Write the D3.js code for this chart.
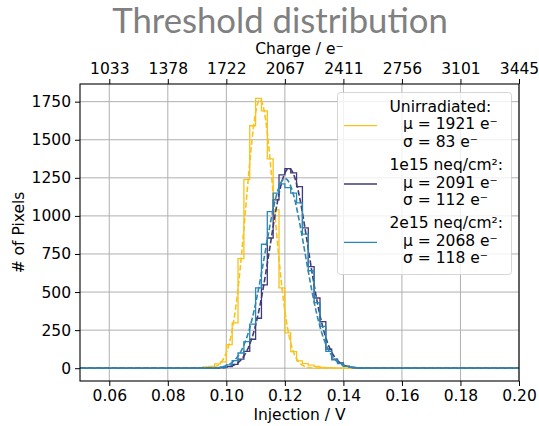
<!DOCTYPE html>
<html>
<head>
<meta charset="utf-8">
<script src="https://cdn.jsdelivr.net/npm/d3@7"></script>
<style>
  body { margin: 0; background: #fff; }
  svg text { font-family: "DejaVu Sans", sans-serif; }
</style>
</head>
<body>
<svg id="chart" width="539" height="426"></svg>
<script>
// injection axis ticks (V) and the matching charge labels on the top axis
const injTicks = [0.06, 0.08, 0.10, 0.12, 0.14, 0.16, 0.18, 0.20];
const chargeLabels = ["1033", "1378", "1722", "2067", "2411", "2756", "3101", "3445"];
const countTicks = [0, 250, 500, 750, 1000, 1250, 1500, 1750];

// histogram bins: first left edge and width (V)
const binStart = 0.088;
const binWidth = 0.002;

// counts per bin
const unirrCounts = [2, 4, 8, 12, 28, 42, 155, 297, 719, 1240, 1592, 1772, 1690, 1375, 1040, 527, 232, 109, 48, 30, 20, 12, 6, 4, 2, 1, 1];
const neq1Counts  = [0, 0, 0, 1, 2, 4, 10, 25, 60, 110, 190, 328, 547, 855, 1105, 1269, 1310, 1282, 1192, 921, 667, 461, 306, 125, 60, 35, 14, 6, 3, 1];
const neq2Counts  = [0, 0, 1, 2, 3, 8, 22, 50, 100, 175, 290, 527, 814, 1028, 1150, 1210, 1185, 1150, 1085, 880, 640, 430, 275, 110, 55, 30, 12, 5, 2];

// gaussian fit results (electrons) and fitted peak heights
const seriesNames = ["Unirradiated:", "1e15 neq/cm²:", "2e15 neq/cm²:"];
const fitMu = [1921, 2091, 2068];
const fitSigma = [83, 112, 118];
const fitAmp = [1765, 1312, 1245];
const ePerVolt = 17225;

const colors = ["#f7c31c", "#3f3b78", "#2b87b4"];
const allCounts = [unirrCounts, neq1Counts, neq2Counts];
const fontSize = "15.5px";

const svg = d3.select("#chart");
const margin = { top: 84, right: 20, bottom: 45, left: 80 };
const width = 519 - margin.left;
const height = 381 - margin.top;

svg.append("text")
    .attr("x", 280)
    .attr("y", 33)
    .attr("text-anchor", "middle")
    .style("font-family", "Lato, sans-serif")
    .style("font-size", "34.7px")
    .attr("fill", "#808080")
    .text("Threshold distribution");

const chart = svg.append("g")
    .attr("transform", `translate(${margin.left},${margin.top})`);

const x = d3.scaleLinear().domain([0.05, 0.2]).range([0, width]);
const y = d3.scaleLinear().domain([-84, 1866]).range([height, 0]);

// grid
chart.append("g")
    .selectAll("line")
    .data(injTicks)
    .enter()
    .append("line")
    .attr("x1", d => x(d)).attr("x2", d => x(d))
    .attr("y1", 0).attr("y2", height)
    .attr("stroke", "#b0b0b0").attr("stroke-width", 1);

chart.append("g")
    .selectAll("line")
    .data(countTicks)
    .enter()
    .append("line")
    .attr("x1", 0).attr("x2", width)
    .attr("y1", d => y(d)).attr("y2", d => y(d))
    .attr("stroke", "#b0b0b0").attr("stroke-width", 1);

chart.append("clipPath").attr("id", "plotClip")
    .append("rect").attr("width", width).attr("height", height);

const plot = chart.append("g").attr("clip-path", "url(#plotClip)");

const stepLine = d3.line()
    .x(d => x(d[0]))
    .y(d => y(d[1]))
    .curve(d3.curveStepAfter);

const fitLine = d3.line()
    .x(d => x(d[0]))
    .y(d => y(d[1]));

const fitXs = d3.range(0.05, 0.2001, 0.0005);

allCounts.forEach((counts, i) => {
    const pts = [[0.05, 0]];
    counts.forEach((c, k) => pts.push([binStart + k * binWidth, c]));
    pts.push([binStart + counts.length * binWidth, 0]);
    pts.push([0.2, 0]);

    plot.append("path")
        .attr("d", stepLine(pts))
        .attr("fill", "none")
        .attr("stroke", colors[i])
        .attr("stroke-width", 1.3);

    const mu = fitMu[i] / ePerVolt;
    const sg = fitSigma[i] / ePerVolt;
    const fitPts = fitXs.map(v => [v, fitAmp[i] * Math.exp(-0.5 * ((v - mu) / sg) ** 2)]);

    plot.append("path")
        .attr("d", fitLine(fitPts))
        .attr("fill", "none")
        .attr("stroke", colors[i])
        .attr("stroke-width", 1.6)
        .attr("stroke-dasharray", "5.5,2.4");
});

// axes
const styleAxis = g => {
    g.select(".domain").remove();
    g.selectAll("text").style("font-size", fontSize).attr("fill", "#000");
    g.selectAll("line").attr("stroke", "#000");
};

chart.append("g")
    .attr("transform", `translate(0,${height})`)
    .call(d3.axisBottom(x).tickValues(injTicks).tickFormat(d3.format(".2f")).tickSize(5).tickPadding(4))
    .call(styleAxis);

chart.append("g")
    .call(d3.axisTop(x).tickValues(injTicks).tickFormat((d, i) => chargeLabels[i]).tickSize(5).tickPadding(5))
    .call(styleAxis);

chart.append("g")
    .call(d3.axisLeft(y).tickValues(countTicks).tickFormat(d3.format("d")).tickSize(5).tickPadding(4))
    .call(styleAxis);

chart.append("rect")
    .attr("width", width).attr("height", height)
    .attr("fill", "none").attr("stroke", "#000").attr("stroke-width", 1.1);

// axis labels
svg.append("text")
    .attr("x", margin.left + width / 2).attr("y", 420)
    .attr("text-anchor", "middle").style("font-size", fontSize)
    .text("Injection / V");

svg.append("text")
    .attr("x", margin.left + width / 2).attr("y", 54)
    .attr("text-anchor", "middle").style("font-size", fontSize)
    .text("Charge / e⁻");

svg.append("text")
    .attr("transform", `translate(24,${margin.top + height / 2}) rotate(-90)`)
    .attr("text-anchor", "middle").style("font-size", fontSize)
    .text("# of Pixels");

// legend
const legend = svg.append("g");
legend.append("rect")
    .attr("x", 337.5).attr("y", 92.5)
    .attr("width", 174).attr("height", 182)
    .attr("rx", 3)
    .attr("fill", "#fff").attr("fill-opacity", 0.8)
    .attr("stroke", "#cccccc").attr("stroke-opacity", 0.8);

seriesNames.forEach((name, i) => {
    const top = 111.7 + i * 58.3;
    legend.append("line")
        .attr("x1", 344).attr("x2", 377)
        .attr("y1", top + 14).attr("y2", top + 14)
        .attr("stroke", colors[i]).attr("stroke-width", 1.3);
    const lines = [name, `μ = ${fitMu[i]} e⁻`, `σ = ${fitSigma[i]} e⁻`];
    lines.forEach((t, j) => {
        legend.append("text")
            .attr("x", j === 0 ? 389.5 : 403)
            .attr("y", top + j * 17.5)
            .style("font-size", fontSize)
            .text(t);
    });
});
</script>
</body>
</html>
